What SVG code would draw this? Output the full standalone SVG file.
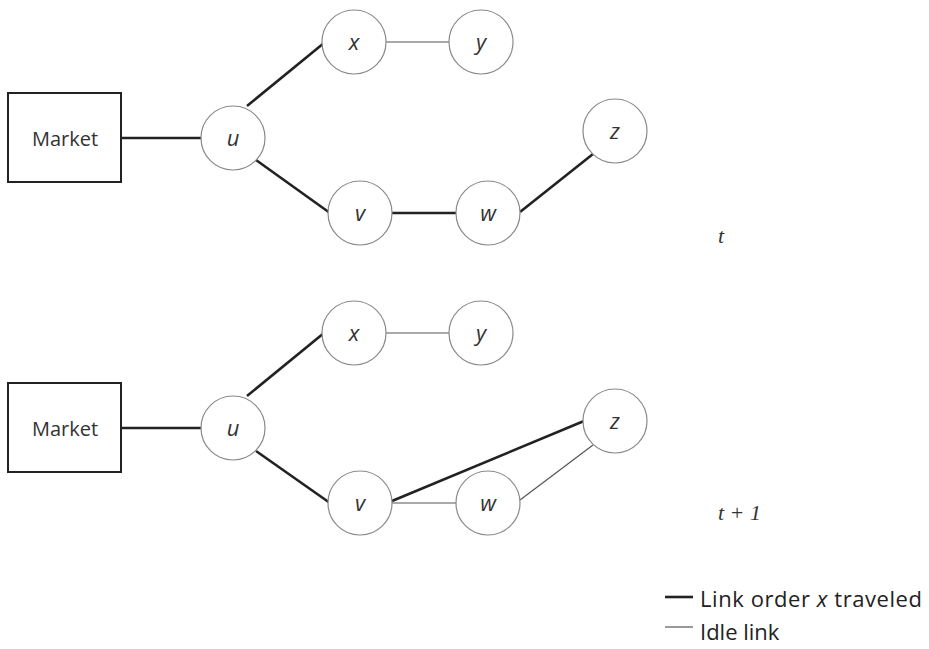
<svg xmlns="http://www.w3.org/2000/svg" width="929" height="649" viewBox="0 0 929 649">
  <style>
    .node circle { fill: #fff; stroke: #8a8a8a; stroke-width: 1.2; }
    .market rect { fill: #fff; stroke: #222; stroke-width: 2; }
    .lbl { font-family: "Open Sans", "Liberation Sans", sans-serif; font-size: 22px; font-style: italic; fill: #333; text-anchor: middle; }
    .mkt { font-family: "Open Sans", "Liberation Sans", sans-serif; font-size: 20px; fill: #333; text-anchor: middle; }
    .used { stroke: #222; stroke-width: 2.6; fill: none; }
    .idle { stroke: #555; stroke-width: 1.2; fill: none; }
    .note { font-family: "Open Sans", "Liberation Sans", sans-serif; font-size: 22px; fill: #222; }
    .time { font-family: "Liberation Serif", serif; font-size: 22px; font-style: italic; fill: #333; }
  </style>

  <!-- connectors, drawn beneath the nodes -->
  <g id="connectors">
    <!-- period t -->
    <line class="used" x1="121" y1="138" x2="203" y2="138"/>
    <line class="used" x1="247" y1="106" x2="324" y2="43"/>
    <line class="used" x1="256" y1="160" x2="330" y2="213"/>
    <line class="idle" x1="386" y1="42" x2="449" y2="42"/>
    <line class="used" x1="392" y1="213" x2="456" y2="213"/>
    <line class="used" x1="520" y1="212" x2="593" y2="154"/>
    <!-- period t+1 -->
    <line class="used" x1="121" y1="428" x2="203" y2="428"/>
    <line class="used" x1="247" y1="396" x2="324" y2="333"/>
    <line class="used" x1="256" y1="451" x2="330" y2="503"/>
    <line class="idle" x1="386" y1="333" x2="449" y2="333"/>
    <line class="idle" x1="392" y1="503" x2="456" y2="503"/>
    <line class="used" x1="392" y1="501" x2="584" y2="421"/>
    <line class="idle" x1="520" y1="500" x2="593" y2="445"/>
  </g>

  <!-- period t nodes -->
  <g id="market-t" class="market"><rect x="8" y="93" width="113" height="89"/><text class="mkt" x="65" y="146">Market</text></g>
  <g id="u-t" class="node"><circle cx="233" cy="138" r="32"/><text class="lbl" x="233" y="146">u</text></g>
  <g id="x-t" class="node"><circle cx="354" cy="42" r="32"/><text class="lbl" x="354" y="50">x</text></g>
  <g id="y-t" class="node"><circle cx="481" cy="42" r="32"/><text class="lbl" x="481" y="50">y</text></g>
  <g id="z-t" class="node"><circle cx="615" cy="131" r="32"/><text class="lbl" x="615" y="139">z</text></g>
  <g id="v-t" class="node"><circle cx="360" cy="213" r="32"/><text class="lbl" x="360" y="221">v</text></g>
  <g id="w-t" class="node"><circle cx="488" cy="213" r="32"/><text class="lbl" x="488" y="221">w</text></g>

  <!-- period t+1 nodes -->
  <g id="market-t1" class="market"><rect x="8" y="383" width="113" height="89"/><text class="mkt" x="65" y="436">Market</text></g>
  <g id="u-t1" class="node"><circle cx="233" cy="428" r="32"/><text class="lbl" x="233" y="436">u</text></g>
  <g id="x-t1" class="node"><circle cx="354" cy="333" r="32"/><text class="lbl" x="354" y="341">x</text></g>
  <g id="y-t1" class="node"><circle cx="481" cy="333" r="32"/><text class="lbl" x="481" y="341">y</text></g>
  <g id="z-t1" class="node"><circle cx="615" cy="421" r="32"/><text class="lbl" x="615" y="429">z</text></g>
  <g id="v-t1" class="node"><circle cx="360" cy="503" r="32"/><text class="lbl" x="360" y="511">v</text></g>
  <g id="w-t1" class="node"><circle cx="488" cy="503" r="32"/><text class="lbl" x="488" y="511">w</text></g>

  <!-- period labels -->
  <text class="time" x="718" y="243">t</text>
  <text class="time" x="718" y="520">t + 1</text>

  <!-- legend -->
  <g id="legend">
    <line class="used" x1="665" y1="597" x2="693" y2="597"/>
    <text class="note" x="700" y="607" textLength="222" lengthAdjust="spacing">Link order <tspan font-style="italic">x</tspan> traveled</text>
    <line class="idle" x1="665" y1="627" x2="693" y2="627"/>
    <text class="note" x="700" y="640">Idle link</text>
  </g>
</svg>
